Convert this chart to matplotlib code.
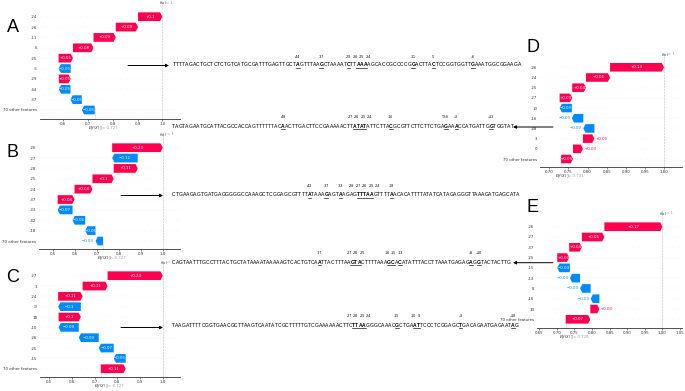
import matplotlib
matplotlib.use("Agg")
import matplotlib.pyplot as plt
from matplotlib.patches import Polygon, FancyArrowPatch
from matplotlib.lines import Line2D

W, H, DPI = 685, 391, 100
fig = plt.figure(figsize=(W / DPI, H / DPI), dpi=DPI)
fig.patch.set_facecolor("white")

RED = "#ff0051"
BLUE = "#008bfb"
GRAY = "#999999"

# ---------------- data ----------------
a_features = ["-24", "-26", "-11", "6", "-25", "-5", "-29", "-44", "-37", "70 other features"]
a_values = [0.098, 0.090, 0.090, 0.083, 0.058, -0.049, 0.048, -0.047, -0.046, -0.052]
a_base = 0.727
a_ticks = [0.6, 0.7, 0.8, 0.9, 1.0]
a_ticklabels = ["0.6", "0.7", "0.8", "0.9", "1.0"]

b_features = ["-26", "-27", "-28", "-25", "-24", "-37", "-33", "-42", "-18", "70 other features"]
b_values = [0.231, -0.117, 0.110, 0.097, 0.082, 0.077, -0.068, -0.058, -0.047, -0.034]
b_base = 0.727
b_ticks = [0.5, 0.6, 0.7, 0.8, 0.9, 1.0]
b_ticklabels = ["0.5", "0.6", "0.7", "0.8", "0.9", "1.0"]

c_features = ["-27", "3", "-24", "-9", "18", "-10", "-26", "-25", "-15", "70 other features"]
c_values = [0.243, 0.110, 0.108, -0.100, 0.098, -0.089, -0.088, -0.066, -0.053, 0.110]
c_base = 0.727
c_ticks = [0.5, 0.6, 0.7, 0.8, 0.9, 1.0]
c_ticklabels = ["0.5", "0.6", "0.7", "0.8", "0.9", "1.0"]

d_features = ["-26", "-24", "-25", "-27", "13", "-16", "-48", "3", "0", "70 other features"]
d_values = [0.141, 0.063, 0.036, 0.033, -0.032, -0.030, -0.029, 0.030, 0.026, 0.031]
d_base = 0.731
d_ticks = [0.70, 0.75, 0.80, 0.85, 0.90, 0.95, 1.00]
d_ticklabels = ["0.70", "0.75", "0.80", "0.85", "0.90", "0.95", "1.00"]

e_features = ["-26", "-27", "-37", "-25", "-15", "-13", "8", "-16", "10", "70 other features"]
e_values = [0.165, 0.064, 0.036, 0.034, -0.036, -0.029, -0.030, -0.025, 0.026, 0.070]
e_base = 0.725
e_ticks = [0.65, 0.70, 0.75, 0.80, 0.85, 0.90, 0.95, 1.00, 1.05]
e_ticklabels = ["0.65", "0.70", "0.75", "0.80", "0.85", "0.90", "0.95", "1.00", "1.05"]

# promoter sequences (position -80 ... +19) and highlighted positions
seq_a = "TTTTAGACTGCTCTCTGTCATGCGATTTGAGTTGCTAGTTTAAGCTAAAATCTTAAAAGCACCGCCCCGGACTTACTCCGGTGGTTGAAATGGCGGAAGA"
marks_a = [-44, -37, -29, -26, -25, -24, -11, -5, 6]
seq_d = "TAGTAGAATGCATTACGCCACCAGTTTTTTACAACTTGACTTCCGAAAAACTTATATATTCTTACGCGTTCTTCTTCTGAGAAACCATGATTGGTGGTAT"
marks_d = [-48, -27, -26, -25, -24, -16, 0, 3, 13]
seq_b = ("CTGAAGAGTGATGAGGGGGCCAAAGCTCGGAGCGTTTT" + "ATAAAGAGTAAGAGTTTAAGTTTTA"
         + "ACACATTTTATATCATAGAGGGTTAAAGATGAGCATA")
marks_b = [-42, -37, -33, -28, -27, -26, -25, -24, -18]
seq_e = ("CAGTAATTTGCCTTTACTGCTATAAAATAAAAAGTCACTGTCA" + "ATTACTTTAA" + "GTA" + "CTTTTAAA"
         + "GCAC" + "ATATTTACCTTAA" + "ATGAGAG" + "AGG" + "TACTACTTG")
marks_e = [-37, -27, -26, -25, -16, -15, -13, 8, 10]
seq_c = ("TAAGATTTTCGGTGAACGCTTAAGTCAATATCGCTTTTTGTCGAAAAAACTTC" + "TTAA" + "GGGCAAAC" + "G"
         + "CTGA" + "AT" + "TCCCTCGGAGCTGACAGAATGAGAATAG")
marks_c = [-27, -26, -25, -24, -15, -10, -9, 3, 18]
SEQ_START = -80

# ---------------- helpers ----------------
def fxy(x, y):
    return x / W, 1 - y / H


def fmt(v):
    s = "%+0.2f" % v
    s = s.rstrip("0").rstrip(".")
    return s.replace("-", "\u2212")


FS = 2.8  # waterfall font size (pt)


def waterfall(geom, feats, vals, base, ticks, ticklabels):
    (v1, p1), (v2, p2) = geom["cal"]
    s = (p2 - p1) / (v2 - v1)
    x0, x1 = geom["x"]
    rt, rb = geom["rows"]
    at, ab = geom["ay"]
    n = len(feats)
    sp = (rb - rt) / (n - 1)
    ax = fig.add_axes([x0 / W, 1 - ab / H, (x1 - x0) / W, (ab - at) / H])
    ax.set_xlim(v1 + (x0 - p1) / s, v1 + (x1 - p1) / s)
    ax.set_ylim((ab - rt) / sp, (at - rt) / sp)
    ax.patch.set_alpha(0)

    starts = [0.0] * n
    cur = base
    for i in range(n - 1, -1, -1):
        starts[i] = cur
        cur += vals[i]
    fx = cur

    hl = 2.2 / s
    h = 0.42
    thr = geom["inside"]
    for i in range(n):
        st, v = starts[i], vals[i]
        en = st + v
        col = RED if v > 0 else BLUE
        d = 1 if v > 0 else -1
        head = min(hl, abs(v))
        pts = [(st, i - h), (en - d * head, i - h), (en, i), (en - d * head, i + h), (st, i + h)]
        ax.add_patch(Polygon(pts, closed=True, facecolor=col, edgecolor="none", zorder=3))
        wpx = abs(v) * s
        if wpx >= thr:
            ax.text(st + v / 2, i, fmt(v), color="white", fontsize=FS, ha="center", va="center", zorder=4)
        elif v > 0:
            ax.text(en + 1.5 / s, i, fmt(v), color=RED, fontsize=FS, ha="left", va="center", zorder=4)
        else:
            ax.text(en - 1.5 / s, i, fmt(v), color=BLUE, fontsize=FS, ha="right", va="center", zorder=4)
        ax.axhline(i, color="#cccccc", lw=0.3, dashes=(1, 5), zorder=-1)

    ax.axvline(fx, 0, 1.06, color="#bbbbbb", lw=0.4, ls="--", zorder=-1, clip_on=False)
    ax.axvline(base, 0, 1.0 / n, color="#bbbbbb", lw=0.4, ls="--", zorder=-1)

    for sname in ["top", "right", "left"]:
        ax.spines[sname].set_visible(False)
    ax.spines["bottom"].set_color("#333333")
    ax.spines["bottom"].set_linewidth(0.6)
    ax.set_xticks(ticks)
    ax.set_xticklabels(ticklabels)
    ax.tick_params(axis="x", length=1.2, width=0.4, labelsize=FS, pad=0.8, colors="#333333")
    ax.set_yticks(range(n))
    ax.set_yticklabels(feats)
    ax.tick_params(axis="y", length=0, labelsize=FS, pad=2, colors="#333333")

    # f(x) and E[f(X)] labels
    fxp = p1 + (fx - v1) * s
    bp = p1 + (base - v1) * s
    ty = at - 5
    fig.text(*fxy(fxp - 3.2, ty), "$f(x)$", fontsize=FS, ha="left", va="center", color="#333333")
    fig.text(*fxy(fxp + 3.9, ty), "= %g" % round(fx, 3), fontsize=FS, ha="left", va="center", color=GRAY)
    by = ab + 9
    fig.text(*fxy(bp - 6.4, by), "$E[f(X)]$", fontsize=FS, ha="left", va="center", color="#333333")
    fig.text(*fxy(bp + 7.0, by), "= %0.3f" % base, fontsize=FS, ha="left", va="center", color=GRAY)

    lx, ly = geom["letter"]
    fig.text(*fxy(lx, ly), geom["name"], fontsize=13, family="Liberation Sans", ha="center", va="center")
    return ax


ADV = {"A": 0.667, "C": 0.722, "G": 0.778, "T": 0.611}
ADV_B = {"A": 0.722, "C": 0.722, "G": 0.778, "T": 0.611}
EM = 347.0 / sum(ADV[c] for c in seq_a)  # px per em
SEQ_FS = EM * 72 / DPI
MARK_FS = 2.6

renderer = fig.canvas.get_renderer()


def draw_seq(seq, marks, x0, y, my, zero_label=None):
    idx = set(p - SEQ_START for p in marks)
    x = x0
    centers = {}
    ranges = {}
    for i, ch in enumerate(seq):
        b = i in idx
        adv = (ADV_B if b else ADV)[ch] * EM
        fig.text(*fxy(x + adv / 2, y), ch, fontsize=SEQ_FS, family="Liberation Sans",
                 weight="bold" if b else "normal", ha="center", va="center")
        centers[i] = x + adv / 2
        ranges[i] = (x, x + adv)
        x += adv
    # underlines for runs of highlighted bases
    sidx = sorted(idx)
    runs = []
    for i in sidx:
        if runs and runs[-1][1] == i - 1:
            runs[-1][1] = i
        else:
            runs.append([i, i])
    for a, b in runs:
        xa, xb = ranges[a][0], ranges[b][1]
        fig.add_artist(Line2D([xa / W, xb / W], [1 - (y + 2.5) / H] * 2, lw=0.45, color="black",
                              transform=fig.transFigure))
    # position labels, pushed apart where they would overlap
    labs = []
    for p in marks:
        if p == 0 and zero_label:
            t = zero_label
        elif p > 0:
            t = "+%d" % p
        else:
            t = "%d" % p
        txt = fig.text(0, 0, t, fontsize=MARK_FS, family="Liberation Sans", ha="center", va="center")
        wpx = txt.get_window_extent(renderer).width
        labs.append([centers[p - SEQ_START], wpx, txt])
    labs.sort(key=lambda r: r[0])
    for _ in range(200):
        moved = False
        for k in range(len(labs) - 1):
            l, r = labs[k], labs[k + 1]
            need = (l[1] + r[1]) / 2 + 1.2
            gap = r[0] - l[0]
            if gap < need - 1e-6:
                o = (need - gap) / 2
                l[0] -= o
                r[0] += o
                moved = True
        if not moved:
            break
    for cx, wpx, txt in labs:
        txt.set_position(fxy(cx, my))


def arrow(xa, xb, y):
    fig.add_artist(FancyArrowPatch(fxy(xa, y), fxy(xb, y), transform=fig.transFigure,
                                   arrowstyle="-|>", mutation_scale=4.5, lw=0.7, color="black",
                                   shrinkA=0, shrinkB=0))


# ---------------- layout ----------------
geoms = {
    "A": dict(name="A", cal=((0.6, 63.3), (1.0, 162.3)), x=(40, 180), rows=(16.7, 110), ay=(8, 119.3),
              letter=(13, 28), inside=10.0),
    "B": dict(name="B", cal=((0.5, 53.3), (1.0, 162.7)), x=(39, 180), rows=(147.7, 241), ay=(139, 249.3),
              letter=(13, 153), inside=10.0),
    "C": dict(name="C", cal=((0.5, 49.3), (1.0, 162.7)), x=(40, 180), rows=(275.7, 368.7), ay=(267, 377.3),
              letter=(13, 277), inside=10.0),
    "D": dict(name="D", cal=((0.70, 549.3), (1.00, 664)), x=(540, 682), rows=(67.3, 159), ay=(59, 167.3),
              letter=(533, 48), inside=11.6),
    "E": dict(name="E", cal=((0.65, 539.3), (1.05, 680)), x=(537, 682), rows=(226.7, 319.3), ay=(218, 328.3),
              letter=(533, 207), inside=11.6),
}

# sequences first (panels drawn on top)
draw_seq(seq_a, marks_a, 173, 65, 57.5)
draw_seq(seq_d, marks_d, 172, 126, 117, zero_label="TSS")
draw_seq(seq_b, marks_b, 172, 195, 186)
draw_seq(seq_e, marks_e, 172, 262.7, 253)
draw_seq(seq_c, marks_c, 172, 325.5, 316)

waterfall(geoms["A"], a_features, a_values, a_base, a_ticks, a_ticklabels)
waterfall(geoms["B"], b_features, b_values, b_base, b_ticks, b_ticklabels)
waterfall(geoms["C"], c_features, c_values, c_base, c_ticks, c_ticklabels)
waterfall(geoms["D"], d_features, d_values, d_base, d_ticks, d_ticklabels)
waterfall(geoms["E"], e_features, e_values, e_base, e_ticks, e_ticklabels)

arrow(128, 169, 65.5)
arrow(121, 163, 195.5)
arrow(121, 163, 327.5)
arrow(553, 513, 127)
arrow(553, 513, 262.7)

fig.savefig("out.png", dpi=DPI, facecolor="white")
